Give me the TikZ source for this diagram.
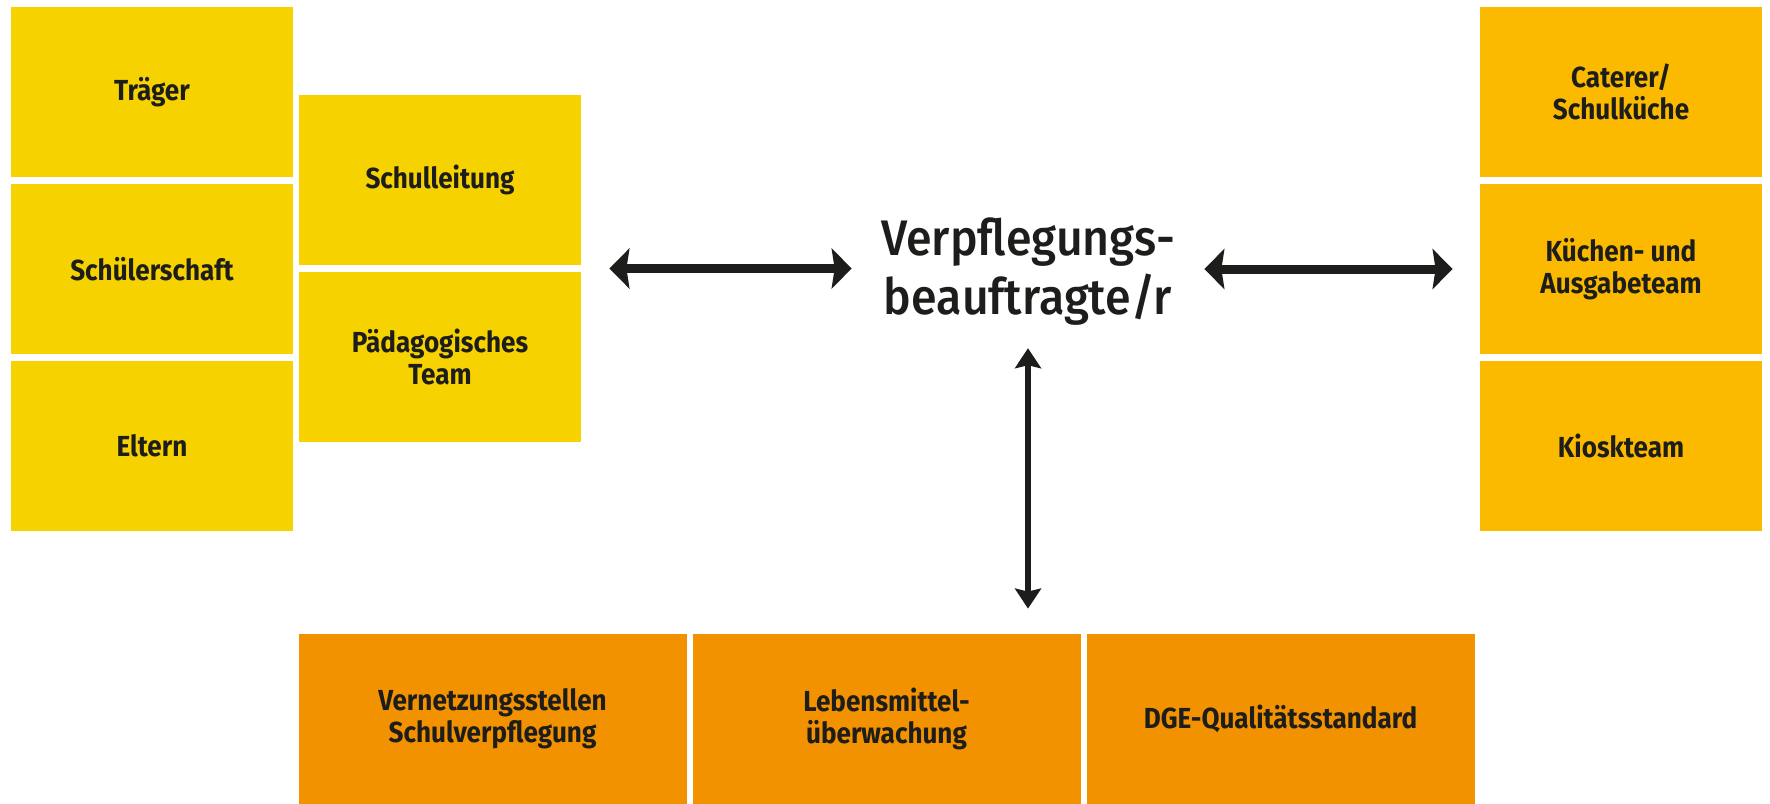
\documentclass[tikz,border=0pt]{standalone}
\usepackage{fontspec}
\setmainfont{Fira Sans}[FakeStretch=0.9]
\newfontfamily\mittelfont{Fira Sans Medium}[FakeStretch=0.93]
\RequirePackage{xcolor}
\definecolor{gelb}{HTML}{F6D200}
\definecolor{bernstein}{HTML}{FBBA00}
\definecolor{orangeton}{HTML}{F39200}
\definecolor{schrift}{HTML}{1D1D1B}
\usetikzlibrary{calc}
\usetikzlibrary{arrows.meta}
\tikzset{
  feld/.style={minimum width=141pt, minimum height=85pt, inner sep=0pt,
    align=center, text=schrift, font=\bfseries\fontsize{14.5}{15.8}\selectfont},
  breitfeld/.style={feld, minimum width=194pt},
  hpfeil/.style={draw=schrift, line width=4.5pt,
    {Stealth[length=10pt, width=20pt, inset=1.5pt]}-{Stealth[length=10pt, width=20pt, inset=1.5pt]}},
  vpfeil/.style={draw=schrift, line width=3.2pt,
    {Stealth[length=10pt, width=13pt, inset=1.5pt]}-{Stealth[length=10pt, width=13pt, inset=1.5pt]}}
}

\begin{document}
\begin{tikzpicture}[x=0.5pt, y=-0.5pt]
  \useasboundingbox (0,0) rectangle (1770,803);

  % linke Spalten
  \node [feld, fill=gelb] (traeger) at (152,92) {Träger};
  \node [feld, fill=gelb] (schueler) at (152,269) {Schülerschaft};
  \node [feld, fill=gelb] (eltern) at (152,446) {Eltern};
  \node [feld, fill=gelb] (schulleitung) at (440,180) {Schulleitung};
  \node [feld, fill=gelb] (paed) at (440,357) {Pädagogisches\\Team};

  % rechte Spalte
  \node [feld, fill=bernstein] (caterer) at (1621,92) {Caterer/\\Schulküche};
  \node [feld, fill=bernstein] (kueche) at (1621,269) {Küchen- und\\Ausgabeteam};
  \node [feld, fill=bernstein] (kiosk) at (1621,446) {Kioskteam};

  % untere Reihe
  \node [breitfeld, fill=orangeton] (vernetzung) at (492.5,719) {Vernetzungsstellen\\Schulverpflegung};
  \node [breitfeld, fill=orangeton] (lebensmittel) at (886.5,719) {Lebensmittel-\\überwachung};
  \node [breitfeld, fill=orangeton] (dge) at (1280.5,719) {DGE-Qualitätsstandard};

  \node [align=center, inner sep=0pt, text=schrift, font=\mittelfont\fontsize{25}{29.5}\selectfont]
    (vb) at (1028,272) {Verpflegungs-\\beauftragte/r};

  \coordinate (lspalt) at ($(schulleitung.south east)!.5!(paed.north east)$);
  \draw [hpfeil, shorten <=14pt, shorten >=14.5pt] (lspalt) -- (lspalt -| vb.west);
  \draw [hpfeil, shorten <=14.5pt, shorten >=13.5pt] (kueche.west -| vb.east) -- (kueche.west);
  \draw [vpfeil, shorten <=11pt, shorten >=12.5pt] (vb.south) -- (vb.south |- lebensmittel.north);

\end{tikzpicture}
\end{document}
